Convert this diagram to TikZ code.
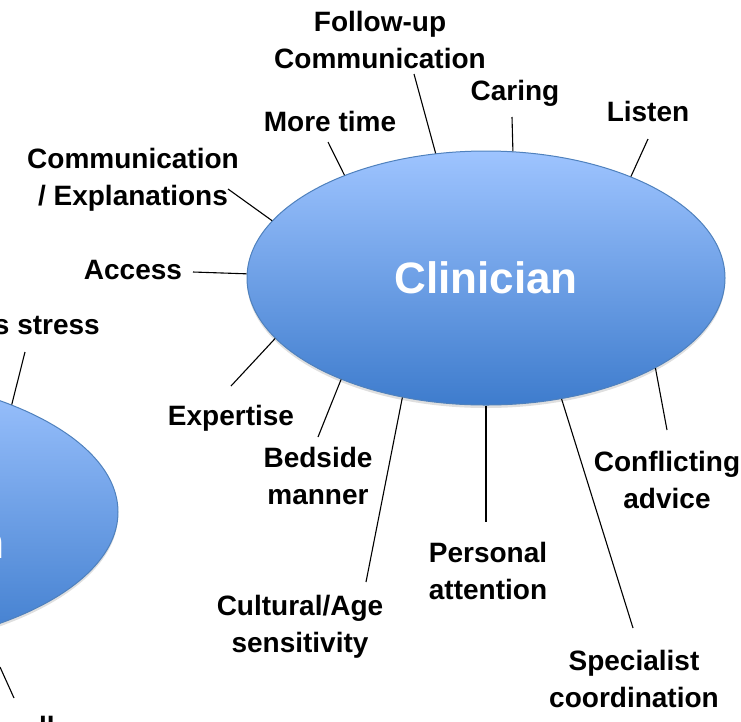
\documentclass[tikz,border=0pt]{standalone}
\usepackage{fontspec}
\setmainfont{Liberation Sans}
\usetikzlibrary{shapes.geometric,shadows}
\definecolor{blobtop}{RGB}{158,196,255}
\definecolor{blobbot}{RGB}{62,124,205}
\definecolor{blobline}{RGB}{79,129,189}
\newcommand\lblfont{\fontsize{28}{37}\selectfont\bfseries}
\tikzset{
  blob/.style={ellipse, draw=blobline, line width=1pt, inner sep=0pt,
    top color=blobtop, bottom color=blobbot, text=white,
    drop shadow={opacity=0.25, shadow xshift=0pt, shadow yshift=-3pt}},
  lbl/.style={font=\lblfont, align=center, inner sep=0pt},
  spoke/.style={line width=1.1pt, black}
}
\begin{document}
\begin{tikzpicture}[x=1pt, y=-1pt]
\useasboundingbox (0,0) rectangle (741,721);

\node[blob, minimum width=600, minimum height=280] (carer) at (-182,512) {};
\node[anchor=base east, inner sep=0pt, text=white,
  font=\fontsize{46}{46}\selectfont\bfseries] (carername) at (5,558) {n};
\node[blob, minimum width=478, minimum height=254, font=\fontsize{44}{44}\selectfont\bfseries]
  (clin) at (486,278) {Clinician};

\node[lbl, anchor=east] (stress) at (100,325) {s stress};
\node[lbl, anchor=north west] (cut) at (39,716) {ll};
\coordinate (stressend) at (25,352);
\coordinate (cutstart) at (0,667);
\coordinate (cutend) at (14,698);
\draw[spoke] (carer.29.3) -- (stressend);
\draw[spoke] (cutstart) -- (cutend);

\node[lbl] (follow) at (380,40) {Follow-up\\Communication};
\node[lbl] (caring) at (515,93) {Caring};
\node[lbl] (more) at (330,121) {More time};
\node[lbl] (listen) at (648,111) {Listen};
\node[lbl] (expl) at (133,180) {Communication\\/ Explanations};
\node[lbl] (access) at (133,270) {Access};
\node[lbl] (expert) at (231,418) {Expertise};
\node[lbl] (bedside) at (318,476) {Bedside\\manner};
\node[lbl] (culture) at (300,627) {Cultural/Age\\sensitivity};
\node[lbl] (personal) at (488,571) {Personal\\attention};
\node[lbl] (conflict) at (667,480) {Conflicting\\advice};
\node[lbl] (special) at (634,679) {Specialist\\coordination};

\coordinate (followend) at (414,74);
\coordinate (caringend) at (512,117);
\coordinate (moreend) at (328,142);
\coordinate (listenend) at (648,139);
\coordinate (explend) at (228,189);
\coordinate (accessend) at (193,272);
\coordinate (expertend) at (231,386);
\coordinate (bedsideend) at (318,437);
\coordinate (cultureend) at (366,582);
\coordinate (personalend) at (486,522);
\coordinate (conflictend) at (667,430);
\coordinate (specialend) at (633,628);

\draw[spoke] (clin.112) -- (followend);
\draw[spoke] (clin.78.3) -- (caringend);
\draw[spoke] (clin.144.5) -- (moreend);
\draw[spoke] (clin.35.5) -- (listenend);
\draw[spoke] (clin.165.6) -- (explend);
\draw[spoke] (clin.179.8) -- (accessend);
\draw[spoke] (clin.196.6) -- (expertend);
\draw[spoke] (clin.215.1) -- (bedsideend);
\draw[spoke] (clin.235.5) -- (cultureend);
\draw[spoke] (clin.270) -- (personalend);
\draw[spoke] (clin.332) -- (conflictend);
\draw[spoke] (clin.302.3) -- (specialend);
\end{tikzpicture}
\end{document}
